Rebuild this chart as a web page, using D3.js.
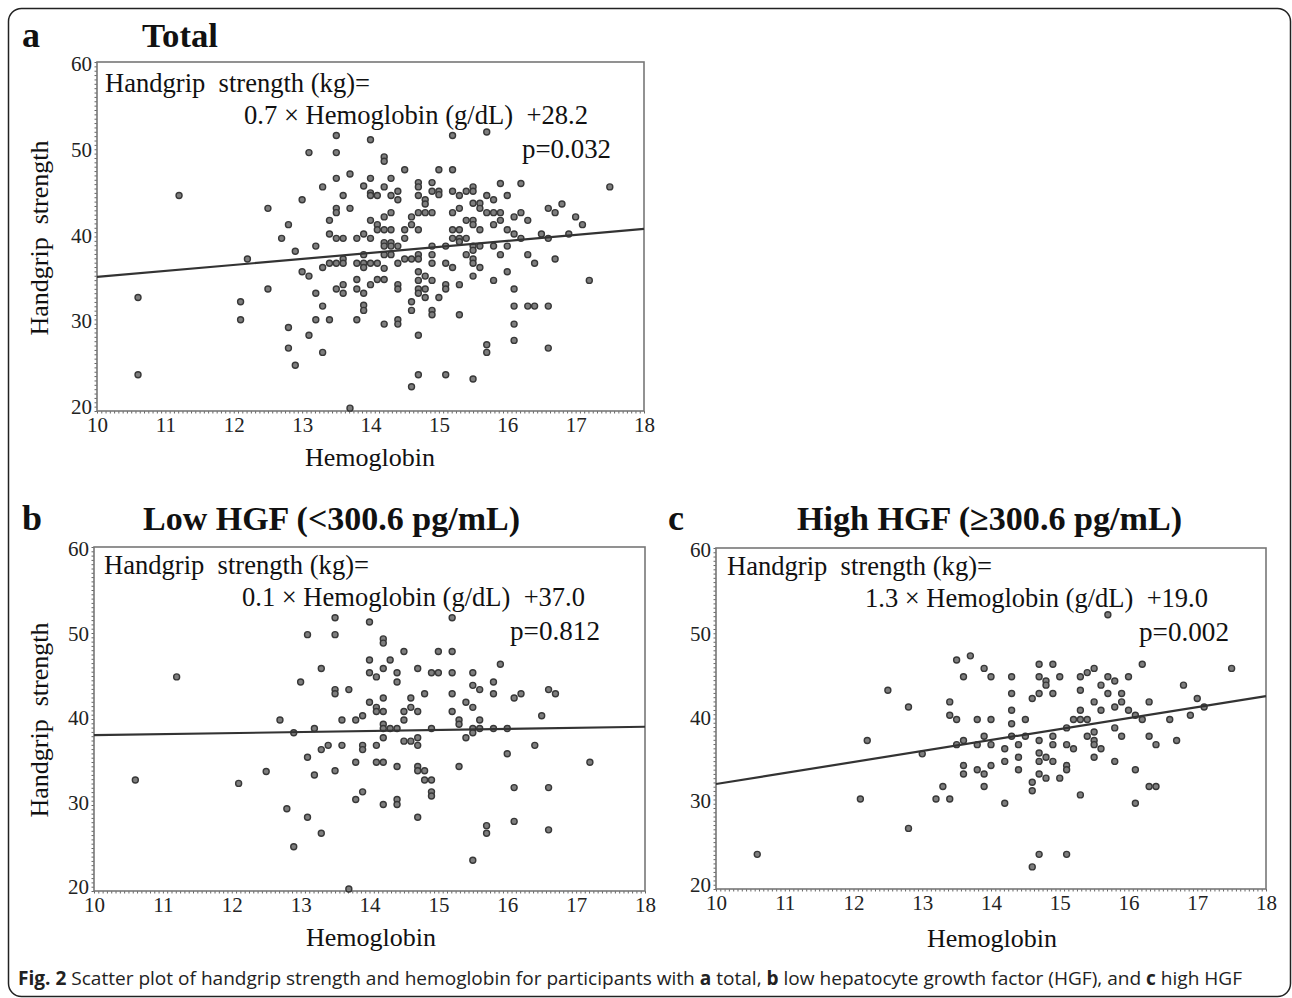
<!DOCTYPE html>
<html>
<head>
<meta charset="utf-8">
<script src="https://cdn.jsdelivr.net/npm/d3@7"></script>
<style>
  body { margin: 0; background: #fff; }
  svg { display: block; }
  .serif { font-family: "Liberation Serif", "Times New Roman", serif; }
  .tick text { font-family: "Liberation Serif", serif; font-size: 21px; fill: #222; }
</style>
</head>
<body>
<svg id="fig"></svg>
<script>
// [hemoglobin, handgrip] pairs
var totalPoints = [
  [10.6,33.0],[10.6,24.0],[11.2,44.9],[12.2,37.5],[12.1,32.5],[12.1,30.4],[12.5,43.4],[12.5,34.0],
  [12.7,39.9],[12.8,41.5],[12.8,29.5],[12.8,27.1],[12.9,38.4],[12.9,25.1],[13.0,44.4],[13.0,36.0],
  [13.1,49.9],[13.1,35.5],[13.1,28.6],[13.2,39.0],[13.2,33.5],[13.2,30.4],[13.3,45.9],[13.3,36.5],
  [13.3,32.0],[13.3,26.6],[13.4,42.0],[13.4,40.4],[13.4,37.0],[13.4,30.4],[13.5,51.9],[13.5,49.9],
  [13.5,46.9],[13.5,43.4],[13.5,42.9],[13.5,39.9],[13.5,37.0],[13.5,34.0],[13.6,44.9],[13.6,39.9],
  [13.6,37.5],[13.6,37.0],[13.6,34.5],[13.6,33.5],[13.7,47.4],[13.7,43.4],[13.7,20.1],[13.8,39.9],
  [13.8,37.0],[13.8,35.1],[13.8,34.0],[13.8,30.4],[13.9,46.0],[13.9,40.4],[13.9,38.0],[13.9,37.0],
  [13.9,36.5],[13.9,33.5],[13.9,32.1],[13.9,31.5],[14.0,51.4],[14.0,46.9],[14.0,45.2],[14.0,44.9],
  [14.0,42.0],[14.0,39.9],[14.0,37.0],[14.0,34.5],[14.1,44.9],[14.1,41.5],[14.1,40.9],[14.1,37.0],
  [14.1,35.1],[14.2,49.4],[14.2,48.9],[14.2,45.9],[14.2,42.4],[14.2,40.9],[14.2,39.4],[14.2,39.0],
  [14.2,38.0],[14.2,36.4],[14.2,35.1],[14.2,29.9],[14.3,46.9],[14.3,42.9],[14.3,40.9],[14.3,39.4],
  [14.3,39.0],[14.3,38.0],[14.3,44.9],[14.4,45.4],[14.4,44.4],[14.4,39.0],[14.4,37.0],[14.4,34.5],
  [14.4,34.0],[14.4,30.4],[14.4,29.9],[14.5,47.9],[14.5,40.9],[14.5,39.9],[14.5,37.5],[14.6,42.4],
  [14.6,41.5],[14.6,37.5],[14.6,32.5],[14.6,31.5],[14.6,22.6],[14.7,46.4],[14.7,45.9],[14.7,44.9],
  [14.7,42.9],[14.7,40.9],[14.7,38.0],[14.7,37.5],[14.7,36.0],[14.7,35.0],[14.7,34.0],[14.7,33.5],
  [14.7,28.6],[14.7,24.0],[14.8,44.4],[14.8,43.9],[14.8,42.9],[14.8,35.5],[14.8,34.0],[14.8,33.0],
  [14.9,46.4],[14.9,45.4],[14.9,42.9],[14.9,39.0],[14.9,38.0],[14.9,37.0],[14.9,35.0],[14.9,31.5],
  [14.9,31.0],[15.0,47.9],[15.0,45.4],[15.0,45.0],[15.0,33.0],[15.1,39.0],[15.1,37.0],[15.1,34.5],
  [15.1,34.0],[15.1,24.0],[15.2,51.9],[15.2,47.9],[15.2,45.4],[15.2,42.9],[15.2,40.9],[15.2,39.9],
  [15.2,36.5],[15.3,44.9],[15.3,43.4],[15.3,40.9],[15.3,39.9],[15.3,39.5],[15.3,34.5],[15.3,31.0],
  [15.4,45.4],[15.4,42.0],[15.4,39.9],[15.4,38.0],[15.5,45.9],[15.5,45.4],[15.5,44.0],[15.5,42.0],
  [15.5,41.5],[15.5,39.0],[15.5,38.5],[15.5,37.5],[15.5,37.0],[15.5,35.5],[15.5,23.5],[15.6,44.0],
  [15.6,43.4],[15.6,40.9],[15.6,39.0],[15.6,36.5],[15.7,52.3],[15.7,44.9],[15.7,42.9],[15.7,27.5],
  [15.7,26.6],[15.8,44.4],[15.8,42.9],[15.8,41.5],[15.8,39.0],[15.8,35.0],[15.9,46.3],[15.9,42.9],
  [15.9,42.0],[15.9,38.0],[16.0,44.9],[16.0,40.9],[16.0,39.0],[16.0,36.0],[16.1,42.4],[16.1,40.4],
  [16.1,34.0],[16.1,32.0],[16.1,29.9],[16.1,28.0],[16.2,46.3],[16.2,42.9],[16.2,39.9],[16.3,42.0],
  [16.3,38.0],[16.3,32.0],[16.4,37.0],[16.4,32.0],[16.5,40.4],[16.6,43.4],[16.6,39.9],[16.6,32.0],
  [16.6,27.1],[16.7,42.9],[16.7,37.5],[16.8,43.9],[16.9,40.4],[17.0,42.4],[17.1,41.5],[17.2,35.0],
  [17.5,45.9]
];

var lowPoints = [
  [10.6,32.9],[11.2,45.1],[12.1,32.5],[12.5,33.9],[12.7,40.0],[12.8,29.5],[12.9,38.5],[12.9,25.0],
  [13.0,44.5],[13.1,50.1],[13.1,35.6],[13.1,28.5],[13.2,39.0],[13.2,33.5],[13.3,46.1],[13.3,36.5],
  [13.3,26.6],[13.4,37.0],[13.5,52.1],[13.5,50.1],[13.5,43.6],[13.5,43.1],[13.5,34.0],[13.6,40.0],
  [13.6,37.0],[13.7,43.6],[13.7,20.0],[13.8,40.0],[13.8,35.0],[13.8,30.6],[13.9,40.5],[13.9,37.0],
  [13.9,36.5],[13.9,31.5],[14.0,51.6],[14.0,47.1],[14.0,45.6],[14.0,42.1],[14.1,45.1],[14.1,41.5],
  [14.1,41.0],[14.1,37.0],[14.1,35.0],[14.2,49.6],[14.2,49.1],[14.2,46.1],[14.2,42.6],[14.2,41.0],
  [14.2,39.5],[14.2,39.0],[14.2,37.9],[14.2,35.0],[14.2,30.0],[14.3,47.1],[14.3,39.0],[14.4,45.6],
  [14.4,44.5],[14.4,39.0],[14.4,34.5],[14.4,30.6],[14.4,30.0],[14.5,48.1],[14.5,41.0],[14.5,40.0],
  [14.5,37.5],[14.6,42.6],[14.6,41.5],[14.6,37.5],[14.7,46.1],[14.7,41.0],[14.7,37.9],[14.7,37.0],
  [14.7,34.5],[14.7,34.0],[14.7,28.5],[14.8,43.1],[14.8,34.0],[14.8,32.9],[14.9,45.6],[14.9,39.0],
  [14.9,32.9],[14.9,31.5],[14.9,31.0],[15.0,48.1],[15.0,45.6],[15.2,52.1],[15.2,48.1],[15.2,45.6],
  [15.2,43.1],[15.2,41.0],[15.3,40.0],[15.3,39.5],[15.3,34.5],[15.4,42.1],[15.4,37.9],[15.5,45.6],
  [15.5,44.1],[15.5,41.5],[15.5,39.0],[15.5,38.5],[15.5,23.4],[15.6,43.6],[15.6,40.0],[15.6,39.0],
  [15.7,27.5],[15.7,26.6],[15.8,44.5],[15.8,43.1],[15.8,39.0],[15.9,46.6],[16.0,39.0],[16.0,36.0],
  [16.1,42.6],[16.1,32.0],[16.1,28.0],[16.2,43.1],[16.4,37.0],[16.5,40.5],[16.6,43.6],[16.6,32.0],
  [16.6,27.0],[16.7,43.1],[17.2,35.0]
];

var highPoints = [
  [10.6,23.9],[12.1,30.5],[12.2,37.5],[12.5,43.5],[12.8,41.5],[12.8,27.0],[13.0,35.9],[13.2,30.5],
  [13.3,32.0],[13.4,42.1],[13.4,40.5],[13.4,30.5],[13.5,47.1],[13.5,40.0],[13.5,37.0],[13.6,45.1],
  [13.6,37.5],[13.6,34.5],[13.6,33.5],[13.7,47.6],[13.8,40.0],[13.8,37.0],[13.8,34.0],[13.9,46.1],
  [13.9,38.0],[13.9,33.5],[13.9,32.0],[14.0,45.1],[14.0,40.0],[14.0,37.0],[14.0,34.5],[14.2,36.5],
  [14.2,35.0],[14.2,30.0],[14.3,45.1],[14.3,43.1],[14.3,41.1],[14.3,39.5],[14.3,38.0],[14.4,37.0],
  [14.4,35.5],[14.4,34.0],[14.5,40.0],[14.5,38.0],[14.6,42.5],[14.6,32.5],[14.6,31.5],[14.6,22.4],
  [14.7,46.6],[14.7,45.1],[14.7,43.1],[14.7,37.5],[14.7,36.0],[14.7,35.0],[14.7,33.5],[14.7,23.9],
  [14.8,44.6],[14.8,44.1],[14.8,35.5],[14.8,33.0],[14.9,46.6],[14.9,43.1],[14.9,38.0],[14.9,37.0],
  [14.9,35.0],[15.0,45.1],[15.0,33.0],[15.1,39.0],[15.1,37.0],[15.1,34.5],[15.1,34.0],[15.1,23.9],
  [15.2,36.5],[15.2,40.0],[15.3,45.1],[15.3,43.5],[15.3,41.1],[15.3,40.0],[15.3,31.0],[15.4,45.6],
  [15.4,40.0],[15.4,38.0],[15.5,46.1],[15.5,42.1],[15.5,38.5],[15.5,37.5],[15.5,37.0],[15.5,35.5],
  [15.6,44.1],[15.6,41.1],[15.6,36.5],[15.7,52.5],[15.7,45.1],[15.7,43.1],[15.8,44.6],[15.8,41.5],
  [15.8,39.0],[15.8,35.0],[15.9,43.1],[15.9,42.1],[15.9,38.0],[16.0,45.1],[16.0,41.1],[16.1,40.5],
  [16.1,34.0],[16.1,30.0],[16.2,46.6],[16.2,40.0],[16.3,42.1],[16.3,38.0],[16.3,32.0],[16.4,37.0],
  [16.4,32.0],[16.6,40.0],[16.7,37.5],[16.8,44.1],[16.9,40.5],[17.0,42.5],[17.1,41.5],[17.5,46.1]
];

// fitted line, handgrip at hemoglobin 10 and 18
var lineX = [10, 18];
var totalLine = [35.4, 41.0];
var lowLine = [38.2, 39.2];
var highLine = [32.3, 42.8];

var xTicks = [10, 11, 12, 13, 14, 15, 16, 17, 18];
var yTicks = [20, 30, 40, 50, 60];

var panelLetters = ["a", "b", "c"];
var panelTitles = ["Total", "Low HGF (<300.6 pg/mL)", "High HGF (\u2265300.6 pg/mL)"];
var eqLine1 = "Handgrip  strength (kg)=";
var eqLine2 = [
  "0.7 \u00d7 Hemoglobin (g/dL)  +28.2",
  "0.1 \u00d7 Hemoglobin (g/dL)  +37.0",
  "1.3 \u00d7 Hemoglobin (g/dL)  +19.0"
];
var pValues = ["p=0.032", "p=0.812", "p=0.002"];

var screen = { width: 1292, height: 998 };
var svg = d3.select("#fig").attr("width", screen.width).attr("height", screen.height);

// outer rounded border
svg.append("rect")
  .attr("x", 8.5).attr("y", 8.5)
  .attr("width", 1282).attr("height", 988)
  .attr("rx", 13)
  .attr("fill", "none")
  .attr("stroke", "#222")
  .attr("stroke-width", 1.5);

var drawPanel = function (p) {
  var xScale = d3.scaleLinear().domain([10, 18]).range([p.left, p.right]);
  var yScale = d3.scaleLinear().domain([20, 60]).range([p.bottom, p.top]);
  var g = svg.append("g").classed("panel", true);

  var fTop = p.top - 4, fBottom = p.bottom + 2;

  // minor ticks (the dotted look on left and bottom)
  g.append("g")
    .attr("transform", "translate(0," + fBottom + ")")
    .call(d3.axisBottom(xScale).tickValues(d3.range(10, 18.001, 0.0625)).tickSize(2.5).tickFormat(""))
    .call(function (a) { a.select(".domain").remove(); })
    .selectAll("line").attr("stroke", "#666");
  g.append("g")
    .attr("transform", "translate(" + p.left + ",0)")
    .call(d3.axisLeft(d3.scaleLinear().domain([0, 1]).range([fBottom, fTop]))
      .tickValues(d3.range(0, 1.0001, 1 / 80)).tickSize(2.5).tickFormat(""))
    .call(function (a) { a.select(".domain").remove(); })
    .selectAll("line").attr("stroke", "#666");

  // frame
  g.append("rect")
    .attr("x", p.left).attr("y", fTop)
    .attr("width", p.right - p.left).attr("height", fBottom - fTop)
    .attr("fill", "none")
    .attr("stroke", "#777")
    .attr("stroke-width", 1.6);

  // tick labels
  g.append("g")
    .attr("transform", "translate(0," + fBottom + ")")
    .call(d3.axisBottom(xScale).tickValues(xTicks).tickSize(0).tickPadding(6))
    .call(function (a) { a.select(".domain").remove(); });
  g.append("g")
    .attr("transform", "translate(" + (p.left - 2) + ",-2)")
    .call(d3.axisLeft(yScale).tickValues(yTicks).tickSize(0).tickPadding(3))
    .call(function (a) { a.select(".domain").remove(); });

  // points
  g.append("g").selectAll("circle")
    .data(p.points)
    .enter()
    .append("circle")
    .attr("cx", function (d) { return xScale(d[0]); })
    .attr("cy", function (d) { return yScale(d[1]); })
    .attr("r", 3)
    .attr("fill", "#7e7e7e")
    .attr("stroke", "#383838")
    .attr("stroke-width", 1.4);

  // regression line
  g.append("line")
    .attr("x1", xScale(lineX[0])).attr("y1", yScale(p.line[0]))
    .attr("x2", xScale(lineX[1])).attr("y2", yScale(p.line[1]))
    .attr("stroke", "#333")
    .attr("stroke-width", 2.2);

  // letter and title
  g.append("text").classed("serif", true)
    .text(p.letter)
    .attr("x", p.letterX).attr("y", p.titleY)
    .attr("font-size", 36).attr("font-weight", "bold").attr("fill", "#111");
  g.append("text").classed("serif", true)
    .text(p.title)
    .attr("x", p.titleX).attr("y", p.titleY)
    .attr("textLength", p.titleW).attr("lengthAdjust", "spacingAndGlyphs")
    .attr("font-size", 34).attr("font-weight", "bold").attr("fill", "#111");

  // equation
  var eq = [eqLine1, p.eq2, p.pv];
  eq.forEach(function (t, i) {
    g.append("text").classed("serif", true)
      .text(t)
      .style("white-space", "pre")
      .attr("x", p.eqX[i]).attr("y", p.eqY[i])
      .attr("textLength", p.eqW[i]).attr("lengthAdjust", "spacingAndGlyphs")
      .attr("font-size", 26.5).attr("fill", "#111");
  });

  // axis titles
  g.append("text").classed("serif", true)
    .text("Hemoglobin")
    .attr("text-anchor", "middle")
    .attr("x", p.xLabelX).attr("y", p.xLabelY)
    .attr("font-size", 26).attr("fill", "#111");
  if (p.yLabel) {
    g.append("g")
      .attr("transform", "translate(48," + p.yLabelY + ")")
      .append("text").classed("serif", true)
      .text("Handgrip  strength")
      .style("white-space", "pre")
      .attr("text-anchor", "middle")
      .attr("transform", "rotate(-90)")
      .attr("font-size", 26).attr("fill", "#111");
  }
};

drawPanel({
  left: 97, right: 644, top: 66, bottom: 409,
  points: totalPoints, line: totalLine,
  letter: panelLetters[0], title: panelTitles[0],
  letterX: 22, titleX: 142, titleY: 47, titleW: 76,
  eq2: eqLine2[0], pv: pValues[0],
  eqX: [105, 244, 522], eqY: [92, 124, 158], eqW: [265, 344, 89],
  xLabelX: 370, xLabelY: 466, yLabel: true, yLabelY: 238
});

drawPanel({
  left: 94, right: 645, top: 551, bottom: 889,
  points: lowPoints, line: lowLine,
  letter: panelLetters[1], title: panelTitles[1],
  letterX: 22, titleX: 143, titleY: 530, titleW: 377,
  eq2: eqLine2[1], pv: pValues[1],
  eqX: [104, 242, 510], eqY: [574, 606, 640], eqW: [265, 343, 90],
  xLabelX: 371, xLabelY: 946, yLabel: true, yLabelY: 720
});

drawPanel({
  left: 716, right: 1266, top: 552, bottom: 887,
  points: highPoints, line: highLine,
  letter: panelLetters[2], title: panelTitles[2],
  letterX: 668, titleX: 797, titleY: 530, titleW: 385,
  eq2: eqLine2[2], pv: pValues[2],
  eqX: [727, 865, 1139], eqY: [575, 607, 641], eqW: [265, 343, 90],
  xLabelX: 992, xLabelY: 947, yLabel: false
});

// caption
var cap = svg.append("text")
  .attr("x", 18).attr("y", 985)
  .attr("textLength", 1224).attr("lengthAdjust", "spacingAndGlyphs")
  .attr("font-family", "'Open Sans', 'Noto Sans', sans-serif")
  .attr("font-size", 19).attr("fill", "#222");
cap.append("tspan").attr("font-weight", "bold").text("Fig. 2");
cap.append("tspan").text(" Scatter plot of handgrip strength and hemoglobin for participants with ");
cap.append("tspan").attr("font-weight", "bold").text("a");
cap.append("tspan").text(" total, ");
cap.append("tspan").attr("font-weight", "bold").text("b");
cap.append("tspan").text(" low hepatocyte growth factor (HGF), and ");
cap.append("tspan").attr("font-weight", "bold").text("c");
cap.append("tspan").text(" high HGF");
</script>
</body>
</html>
